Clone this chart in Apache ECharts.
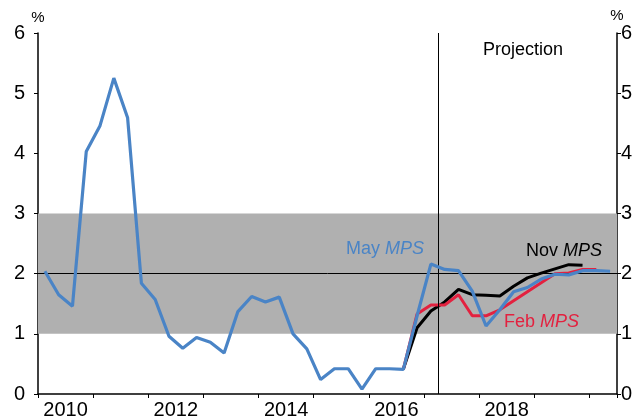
<!DOCTYPE html>
<html>
<head>
<meta charset="utf-8">
<script src="https://cdn.jsdelivr.net/npm/echarts@6/dist/echarts.min.js"></script>
<style>
  html, body { margin: 0; padding: 0; background: #fff; }
  #chart { width: 635px; height: 420px; }
</style>
</head>
<body>
<div id="chart"></div>
<script>
// quarterly data, first quarter = March quarter 2010
const startYear = 2010;
const endYear = 2020.5;
const projStart = 2017.25;        // vertical line: projections begin
const targetBand = [1, 3];         // shaded band
const targetMid = 2;
const yTicks = [0, 1, 2, 3, 4, 5, 6];

// May MPS (history + projection), 2010Q1 .. 2020Q2
const mayMPS = [
  2.04, 1.65, 1.46, 4.03,
  4.46, 5.25, 4.59, 1.84,
  1.57, 0.96, 0.76, 0.94,
  0.86, 0.68, 1.37, 1.62,
  1.53, 1.61, 1.00, 0.75,
  0.24, 0.42, 0.42, 0.08,
  0.42, 0.42, 0.41, 1.30,
  2.16, 2.07, 2.05, 1.71,
  1.13, 1.40, 1.70, 1.77,
  1.91, 1.99, 1.98, 2.05,
  2.05, 2.04
];
// Feb MPS, from 2016Q3 .. 2020Q1
const febStart = 26;
const febMPS = [0.41, 1.33, 1.48, 1.48, 1.65, 1.30, 1.30, 1.40, 1.55, 1.70, 1.85, 2.00, 2.01, 2.07, 2.07];
// Nov MPS, from 2016Q3 .. 2019Q4
const novStart = 26;
const novMPS = [0.41, 1.10, 1.38, 1.53, 1.74, 1.65, 1.64, 1.63, 1.79, 1.93, 2.01, 2.08, 2.15, 2.14];

// quarter index -> mid-quarter position in years
function qx(i) { return startYear + (i + 0.5) / 4; }
function toPairs(vals, start) {
  return vals.map((v, k) => [qx(start + k), v]);
}

const font = 'Liberation Sans, Arial, sans-serif';
const chart = echarts.init(document.getElementById('chart'));

const option = {
  animation: false,
  backgroundColor: '#fff',
  grid: { left: 38, right: 18, top: 33, bottom: 26, containLabel: false, outerBoundsMode: 'none' },
  xAxis: [
    {
      type: 'value', min: startYear, max: endYear, interval: 0.5,
      axisLine: { lineStyle: { color: '#000', width: 1.5 } },
      axisTick: { show: false },
      splitLine: { show: false },
      axisLabel: {
        color: '#000', fontSize: 20, fontFamily: font, margin: 6,
        formatter: function (v) {
          // year labels sit in the middle of every second year
          const d = Math.round((v - startYear) * 2);
          return (d % 4 === 1 && v < endYear) ? String(Math.floor(v)) : '';
        }
      }
    },
    {
      type: 'value', min: startYear, max: endYear, interval: 1, position: 'bottom',
      axisLine: { show: false },
      axisTick: { show: true, length: 4, lineStyle: { color: '#000', width: 1 } },
      axisLabel: { show: false },
      splitLine: { show: false }
    }
  ],
  yAxis: [
    {
      type: 'value', min: yTicks[0], max: yTicks[yTicks.length - 1], interval: 1,
      position: 'left',
      name: '%', nameGap: 8,
      nameTextStyle: { color: '#000', fontSize: 15, fontFamily: font, align: 'center' },
      axisLine: { show: true, lineStyle: { color: '#000', width: 1.5 } },
      axisTick: { show: true, length: 4, lineStyle: { color: '#000' } },
      axisLabel: { color: '#000', fontSize: 20, fontFamily: font, margin: 13 },
      splitLine: { show: false }
    },
    {
      type: 'value', min: yTicks[0], max: yTicks[yTicks.length - 1], interval: 1,
      position: 'right',
      name: '%', nameGap: 8,
      nameTextStyle: { color: '#000', fontSize: 15, fontFamily: font, align: 'center' },
      axisLine: { show: true, lineStyle: { color: '#000', width: 1.5 } },
      axisTick: { show: true, length: 4, lineStyle: { color: '#000' } },
      axisLabel: { color: '#000', fontSize: 20, fontFamily: font, margin: 4 },
      splitLine: { show: false }
    }
  ],
  series: [
    {
      name: 'Nov MPS', type: 'line', data: toPairs(novMPS, novStart),
      showSymbol: false, lineStyle: { color: '#000', width: 3 }, z: 3,
      markArea: {
        silent: true,
        itemStyle: { color: '#b0b0b0' },
        data: [[{ yAxis: targetBand[0] }, { yAxis: targetBand[1] }]]
      },
      markLine: {
        silent: true, symbol: 'none', label: { show: false },
        lineStyle: { color: '#000', width: 1, type: 'solid' },
        data: [{ yAxis: targetMid }, { xAxis: projStart }]
      }
    },
    {
      name: 'Feb MPS', type: 'line', data: toPairs(febMPS, febStart),
      showSymbol: false, lineStyle: { color: '#e3213f', width: 3 }, z: 4
    },
    {
      name: 'May MPS', type: 'line', data: toPairs(mayMPS, 0),
      showSymbol: false, lineStyle: { color: '#4a84c6', width: 3.2 }, z: 5
    }
  ],
  graphic: [
    {
      type: 'text', left: 483, top: 41, z: 10,
      style: { text: 'Projection', fill: '#000', font: '18px ' + font }
    },
    {
      type: 'text', left: 346, top: 240, z: 10,
      style: {
        text: '{a|May }{b|MPS}',
        rich: {
          a: { fill: '#4a84c6', fontSize: 18, fontFamily: font },
          b: { fill: '#4a84c6', fontSize: 18, fontFamily: font, fontStyle: 'italic' }
        }
      }
    },
    {
      type: 'text', left: 526, top: 242, z: 10,
      style: {
        text: '{a|Nov }{b|MPS}',
        rich: {
          a: { fill: '#000', fontSize: 18, fontFamily: font },
          b: { fill: '#000', fontSize: 18, fontFamily: font, fontStyle: 'italic' }
        }
      }
    },
    {
      type: 'text', left: 504, top: 313, z: 10,
      style: {
        text: '{a|Feb }{b|MPS}',
        rich: {
          a: { fill: '#e3213f', fontSize: 18, fontFamily: font },
          b: { fill: '#e3213f', fontSize: 18, fontFamily: font, fontStyle: 'italic' }
        }
      }
    }
  ]
};

chart.setOption(option);
</script>
</body>
</html>
